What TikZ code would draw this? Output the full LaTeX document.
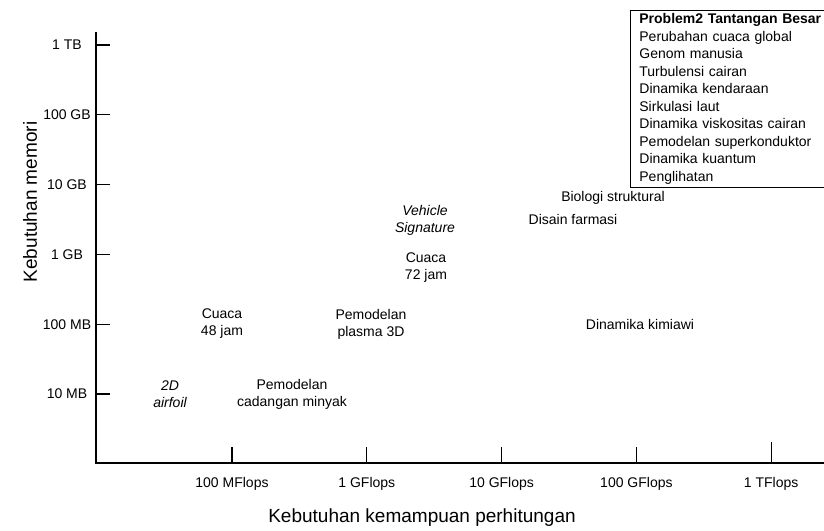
\documentclass[tikz,border=0pt]{standalone}
\usepackage{fontspec}
\setmainfont{Liberation Sans}
\begin{document}
\begin{tikzpicture}[x=1pt, y=-1pt,
  every node/.style = {font=\fontsize{14}{17}\selectfont,
    align=center, inner sep=0pt},
  axisline/.style = {line width=1.6pt},
  tickline/.style = {line width=1.2pt},
  axistitle/.style = {font=\fontsize{19}{22}\selectfont},
  slanted/.style = {font=\fontsize{14}{17}\selectfont\itshape}]
 \useasboundingbox (0,0) rectangle (824,530);
 % axes
 \coordinate (origin) at (96,463);
 \coordinate (ytop) at (96,32);
 \coordinate (xend) at (824,463);
 \draw[axisline] (ytop) -- (origin) -- (xend);
 % memory ticks
 \foreach \y/\lab [count=\i] in {45/1 TB, 114.8/100 GB, 184.6/10 GB,
     254.4/1 GB, 324.2/100 MB, 394/10 MB} {
   \coordinate (ytick\i) at (97,\y);
   \draw[tickline] (ytick\i) -- ++(13,0);
   \node (ylab\i) at (67,\y) {\lab};
 }
 % flops ticks
 \foreach \x/\h/\lab [count=\i] in {232/16/100 MFlops, 366.8/16/1 GFlops,
     501.6/16/10 GFlops, 636.4/16/100 GFlops, 771.2/21/1 TFlops} {
   \coordinate (xtick\i) at (\x,463);
   \draw[tickline] (xtick\i) -- ++(0,-\h);
   \node (xlab\i) at (\x,484) {\lab};
 }
 % axis titles
 \node[axistitle] (xtitle) at (422,518) {Kebutuhan kemampuan perhitungan};
 \node[axistitle, rotate=90] (ytitle) at (30,202) {Kebutuhan memori};
 % applications
 \node[slanted] (airfoil) at (170,394) {2D\\airfoil};
 \node (minyak) at (292,394) {Pemodelan\\cadangan minyak};
 \node (cuaca48) at (222,324) {Cuaca\\48 jam};
 \node (plasma) at (371,324) {Pemodelan\\plasma 3D};
 \node[slanted] (vehicle) at (425,220) {Vehicle\\Signature};
 \node (cuaca72) at (426,268) {Cuaca\\72 jam};
 \node (biologi) at (613,198) {Biologi struktural};
 \node (farmasi) at (573,219) {Disain farmasi};
 \node (kimia) at (640,324) {Dinamika kimiawi};
 % grand challenges
 \node[draw, line width=0.8pt, anchor=north west, align=left,
   inner xsep=9pt, inner ysep=3pt, text width=185pt,
   font=\fontsize{14}{17.5}\selectfont] (tantangan) at (630,10)
   {\textbf{Problem2 Tantangan Besar}\\
    Perubahan cuaca global\\
    Genom manusia\\
    Turbulensi cairan\\
    Dinamika kendaraan\\
    Sirkulasi laut\\
    Dinamika viskositas cairan\\
    Pemodelan superkonduktor\\
    Dinamika kuantum\\
    Penglihatan};
\end{tikzpicture}
\end{document}
